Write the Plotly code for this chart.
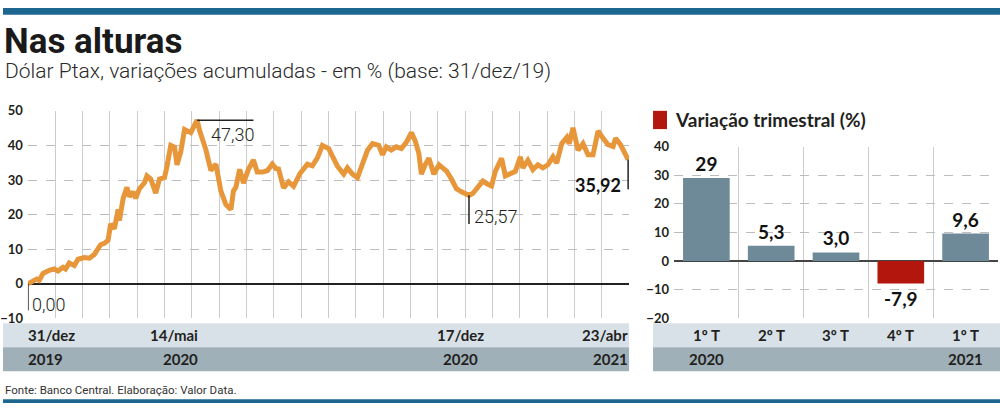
import plotly.graph_objects as go

# ---------------- data ----------------
dates = [
    "2019-12-31", "2020-01-04", "2020-01-07", "2020-01-09", "2020-01-12", "2020-01-17",
    "2020-01-21", "2020-01-24", "2020-01-28", "2020-01-30", "2020-02-02", "2020-02-06",
    "2020-02-09", "2020-02-14", "2020-02-18", "2020-02-22", "2020-02-27", "2020-03-01",
    "2020-03-04", "2020-03-06", "2020-03-09", "2020-03-12", "2020-03-13", "2020-03-16",
    "2020-03-19", "2020-03-21", "2020-03-24", "2020-03-26", "2020-03-29", "2020-04-02",
    "2020-04-04", "2020-04-07", "2020-04-11", "2020-04-14", "2020-04-18", "2020-04-20",
    "2020-04-23", "2020-04-26", "2020-04-28", "2020-05-01", "2020-05-04", "2020-05-09",
    "2020-05-14", "2020-05-16", "2020-05-18", "2020-05-21", "2020-05-25", "2020-05-29",
    "2020-06-02", "2020-06-06", "2020-06-10", "2020-06-12", "2020-06-14", "2020-06-17",
    "2020-06-20", "2020-06-24", "2020-06-28", "2020-07-01", "2020-07-05", "2020-07-09",
    "2020-07-13", "2020-07-16", "2020-07-18", "2020-07-22", "2020-07-26", "2020-07-30",
    "2020-08-04", "2020-08-10", "2020-08-14", "2020-08-18", "2020-08-22", "2020-08-27",
    "2020-09-03", "2020-09-08", "2020-09-11", "2020-09-15", "2020-09-19", "2020-09-23",
    "2020-09-27", "2020-10-01", "2020-10-06", "2020-10-09", "2020-10-12", "2020-10-16",
    "2020-10-20", "2020-10-24", "2020-10-28", "2020-11-01", "2020-11-04", "2020-11-07",
    "2020-11-09", "2020-11-12", "2020-11-15", "2020-11-19", "2020-11-23", "2020-11-26",
    "2020-11-29", "2020-12-03", "2020-12-07", "2020-12-11", "2020-12-17", "2020-12-20",
    "2020-12-24", "2020-12-28", "2021-01-01", "2021-01-04", "2021-01-07", "2021-01-12",
    "2021-01-15", "2021-01-19", "2021-01-23", "2021-01-27", "2021-01-29", "2021-02-02",
    "2021-02-06", "2021-02-10", "2021-02-14", "2021-02-18", "2021-02-22", "2021-02-25",
    "2021-03-01", "2021-03-05", "2021-03-07", "2021-03-10", "2021-03-14", "2021-03-18",
    "2021-03-22", "2021-03-26", "2021-03-30", "2021-04-03", "2021-04-07", "2021-04-11",
    "2021-04-13", "2021-04-17", "2021-04-23",
]
ptax = [
    0.0, 0.6, 1.4, 1.0, 3.0, 3.9,
    4.3, 3.7, 4.8, 4.3, 6.0, 5.3,
    7.1, 7.6, 7.4, 8.5, 11.3, 11.7,
    12.6, 17.3, 15.9, 21.5, 18.3, 24.7,
    27.9, 25.2, 26.6, 24.7, 27.5, 29.2,
    31.2, 30.3, 26.2, 30.3, 30.7, 34.0,
    40.0, 39.5, 34.4, 38.2, 44.6, 43.7,
    47.30, 44.3, 42.4, 38.8, 32.8, 34.6,
    26.8, 22.9, 21.5, 26.8, 28.0, 33.1,
    29.1, 33.1, 35.8, 32.3, 32.3, 32.7,
    34.6, 33.3, 33.2, 27.7, 29.5, 28.2,
    31.8, 34.6, 34.1, 36.4, 40.0, 39.1,
    34.0, 31.7, 33.5, 31.7, 30.7, 34.8,
    38.6, 40.5, 40.0, 37.3, 39.6, 38.7,
    39.6, 39.1, 40.9, 43.7, 41.4, 37.7,
    31.7, 34.4, 36.3, 31.7, 34.4, 33.5,
    32.6, 30.3, 27.5, 26.6, 25.57, 26.1,
    27.9, 29.7, 28.8, 28.3, 32.5, 36.3,
    31.2, 31.7, 32.5, 36.7, 33.5, 35.7,
    33.0, 34.4, 33.5, 34.4, 36.7, 34.9,
    40.5, 42.3, 40.5, 45.1, 38.6, 40.5,
    37.3, 37.3, 44.2, 42.1, 40.2, 39.7,
    42.1, 40.2, 35.92,
]

date_ticks = ["2019-12-31", "2020-05-14", "2020-12-17", "2021-04-23"]
date_tick_labels = ["31/dez", "14/mai", "17/dez", "23/abr"]
date_tick_years = ["2019", "2020", "2020", "2021"]

highlight_dates = ["2019-12-31", "2020-05-14", "2020-12-17", "2021-04-23"]
highlight_values = [0.00, 47.30, 25.57, 35.92]
highlight_labels = ["0,00", "47,30", "25,57", "35,92"]

quarters = ["1º T", "2º T", "3º T", "4º T", "1º T"]
quarter_years = ["2020", "", "", "", "2021"]
quarter_var = [29, 5.3, 3.0, -7.9, 9.6]
quarter_text = ["29", "5,3", "3,0", "-7,9", "9,6"]

# ---------------- styles ----------------
W, H = 1000, 411
def px(y):  # pixel row -> paper y
    return 1 - y / H

NARROW = "Roboto, Liberation Sans, sans-serif"
BOLDF = "Lato, Open Sans, sans-serif"
TXT = "#231f20"
ORANGE = "#e8963a"
SLATE = "#6e8a98"
RED = "#b3160c"
LIGHTBAND = "#d8e1e8"
DARKBAND = "#9fb0b9"
BLUE = "#1d6690"
GRID = "#cccccc"

fig = go.Figure()

fig.add_trace(go.Scatter(
    x=dates, y=ptax, mode="lines",
    line=dict(color=ORANGE, width=5),
    xaxis="x", yaxis="y", hoverinfo="skip", showlegend=False,
))

bar_colors = [RED if v < 0 else SLATE for v in quarter_var]
fig.add_trace(go.Bar(
    x=list(range(len(quarters))), y=quarter_var, width=0.72,
    marker=dict(color=bar_colors, line=dict(width=0)),
    text=quarter_text, textposition="outside", cliponaxis=False,
    constraintext="none",
    textfont=dict(family=BOLDF, size=19, color="#111111", weight="bold"),
    xaxis="x2", yaxis="y2", hoverinfo="skip", showlegend=False,
))

dtick_ms = 21.81 * 86400000
fig.update_layout(
    width=W, height=H, margin=dict(l=0, r=0, t=0, b=0),
    paper_bgcolor="white", plot_bgcolor="white",
    showlegend=False,
    xaxis=dict(
        type="date", domain=[0.025, 0.628],
        range=["2019-12-31", "2021-04-23 19:00"],
        tickmode="linear", tick0="2019-12-31", dtick=dtick_ms,
        showgrid=True, gridcolor=GRID, gridwidth=1,
        showticklabels=False, ticks="", zeroline=False, showline=False,
        anchor="y", fixedrange=True,
    ),
    yaxis=dict(
        domain=[px(323), px(107)], range=[-10, 50],
        tickmode="array", tickvals=[-10, 0, 10, 20, 30, 40, 50],
        showgrid=True, gridcolor="#bdbdbd", griddash="dash", gridwidth=1,
        zeroline=True, zerolinecolor="#222222", zerolinewidth=1.6,
        tickfont=dict(family=BOLDF, size=13, color=TXT, weight="bold"),
        ticks="", ticklabelstandoff=4, showline=False, anchor="x",
    ),
    xaxis2=dict(
        domain=[0.673, 0.998], range=[-0.5, 4.5],
        tickmode="array", tickvals=[-0.5, 0.5, 1.5, 2.5, 3.5, 4.5],
        showgrid=True, gridcolor=GRID, gridwidth=1,
        showticklabels=False, ticks="", zeroline=False, showline=False,
        anchor="y2",
    ),
    yaxis2=dict(
        domain=[px(322.7), px(144.3)], range=[-20, 40],
        tickmode="array", tickvals=[-20, -10, 0, 10, 20, 30, 40],
        showgrid=True, gridcolor="#bdbdbd", griddash="dash", gridwidth=1,
        zeroline=True, zerolinecolor="#444444", zerolinewidth=1.6,
        tickfont=dict(family=BOLDF, size=13, color=TXT, weight="bold"),
        ticks="", ticklabelstandoff=4, showline=False, anchor="x2",
    ),
)

shapes = []
# top / bottom stripes
shapes.append(dict(type="rect", xref="paper", yref="paper", x0=0, x1=1, y0=px(7), y1=1,
                   fillcolor=BLUE, line_width=0, layer="below"))
shapes.append(dict(type="rect", xref="paper", yref="paper", x0=0, x1=1, y0=0, y1=px(407),
                   fillcolor=BLUE, line_width=0, layer="below"))
# bands under charts
for x0, x1 in [(0, 0.628), (0.652, 1.0)]:
    shapes.append(dict(type="rect", xref="paper", yref="paper", x0=x0, x1=x1,
                       y0=px(353), y1=px(328), fillcolor=LIGHTBAND, line_width=0, layer="below"))
    shapes.append(dict(type="rect", xref="paper", yref="paper", x0=x0, x1=x1,
                       y0=px(378), y1=px(353), fillcolor=DARKBAND, line_width=0, layer="below"))
# legend square
shapes.append(dict(type="rect", xref="paper", yref="paper", x0=0.652, x1=0.666,
                   y0=px(126), y1=px(107), fillcolor=RED, line_width=0))

# highlight marker lines
d0, dpk, dlo, dend = highlight_dates
v0, vpk, vlo, vend = highlight_values
shapes.append(dict(type="line", xref="x", yref="y", x0=d0, x1=d0, y0=v0, y1=v0 - 7.7,
                   line=dict(color="#222222", width=1.5)))
shapes.append(dict(type="line", xref="x", yref="y", x0=dpk, x1="2020-06-28", y0=vpk, y1=vpk,
                   line=dict(color="#222222", width=1.5)))
shapes.append(dict(type="line", xref="x", yref="y", x0=dlo, x1=dlo, y0=vlo, y1=vlo - 8.3,
                   line=dict(color="#222222", width=1.5)))
shapes.append(dict(type="line", xref="x", yref="y", x0=dend, x1=dend, y0=vend, y1=vend - 8.6,
                   line=dict(color="#222222", width=1.5)))
fig.update_layout(shapes=shapes)

ann = []
# title & subtitle
ann.append(dict(text="<b>Nas alturas</b>", xref="paper", yref="paper", x=-0.001, y=px(35),
                xanchor="left", yanchor="middle", showarrow=False,
                font=dict(family=NARROW, size=35, color="#1a1a1a", weight=900)))
ann.append(dict(text="Dólar Ptax, variações acumuladas - em % (base: 31/dez/19)",
                xref="paper", yref="paper", x=0.0, y=px(66), xanchor="left", yanchor="middle",
                showarrow=False, font=dict(family=NARROW, size=21, color="#2a2a2a", weight=300)))
# legend text
ann.append(dict(text="<b>Variação trimestral (%)</b>", xref="paper", yref="paper", x=0.672, y=px(116),
                xanchor="left", yanchor="middle", showarrow=False,
                font=dict(family=BOLDF, size=19, color=TXT)))
# footer
ann.append(dict(text="Fonte: Banco Central. Elaboração: Valor Data.", xref="paper", yref="paper",
                x=0.0, y=px(397), xanchor="left", yanchor="middle", showarrow=False,
                font=dict(family=NARROW, size=11.5, color="#333333")))

# highlight labels
ann.append(dict(text=highlight_labels[0], xref="x", yref="y", x=d0, y=v0, xanchor="left", yanchor="middle",
                xshift=2, yshift=-21, showarrow=False,
                font=dict(family=NARROW, size=18, color=TXT, weight=300)))
ann.append(dict(text=highlight_labels[1], xref="x", yref="y", x=dpk, y=vpk, xanchor="left", yanchor="middle",
                xshift=12, yshift=-14, showarrow=False,
                font=dict(family=NARROW, size=18, color=TXT, weight=300)))
ann.append(dict(text=highlight_labels[2], xref="x", yref="y", x=dlo, y=vlo, xanchor="left", yanchor="middle",
                xshift=3, yshift=-21, showarrow=False,
                font=dict(family=NARROW, size=18, color=TXT, weight=300)))
ann.append(dict(text="<b>" + highlight_labels[3] + "</b>", xref="x", yref="y", x=dend, y=vend,
                xanchor="right", yanchor="middle", xshift=-5, yshift=-25, showarrow=False,
                font=dict(family=BOLDF, size=18, color="#111111")))

# date band labels
anchors = [("left", -2), ("right", 3), ("center", -8), ("right", 2)]
for d, lab, yr, (xa, xs) in zip(date_ticks, date_tick_labels, date_tick_years, anchors):
    ann.append(dict(text="<b>" + lab + "</b>", xref="x", yref="paper", x=d, y=px(340.5),
                    xanchor=xa, yanchor="middle", xshift=xs, showarrow=False,
                    font=dict(family=BOLDF, size=15, color=TXT)))
    ann.append(dict(text="<b>" + yr + "</b>", xref="x", yref="paper", x=d, y=px(365.5),
                    xanchor=xa, yanchor="middle", xshift=xs, showarrow=False,
                    font=dict(family=BOLDF, size=15, color=TXT)))

# quarter band labels
for i, (q, yr) in enumerate(zip(quarters, quarter_years)):
    ann.append(dict(text="<b>" + q + "</b>", xref="x2", yref="paper", x=i, y=px(340.5),
                    xanchor="center", yanchor="middle", showarrow=False,
                    font=dict(family=BOLDF, size=15, color=TXT)))
    if yr:
        ann.append(dict(text="<b>" + yr + "</b>", xref="x2", yref="paper", x=i, y=px(365.5),
                        xanchor="center", yanchor="middle", showarrow=False,
                        font=dict(family=BOLDF, size=15, color=TXT)))

fig.update_layout(annotations=ann)
fig.write_html("out.html", config={"displayModeBar": False, "staticPlot": True},
               post_script="document.body.style.margin='0px';document.body.style.padding='0px';")
